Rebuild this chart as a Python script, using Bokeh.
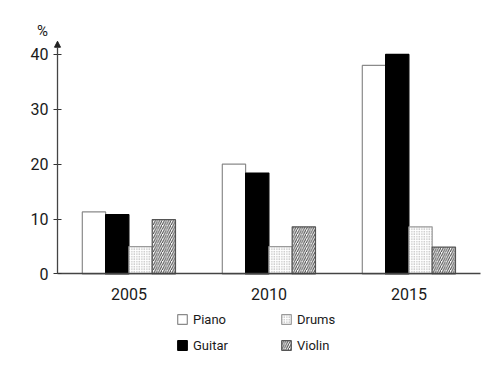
from bokeh.plotting import figure
from bokeh.models import (Range1d, FixedTicker, Legend, LegendItem, Arrow, NormalHead,
                          Label, ColumnDataSource)
from bokeh.transform import dodge
from bokeh.embed import file_html
from bokeh.resources import INLINE

years = [2005, 2010, 2015]
year_labels = ["2005", "2010", "2015"]
instruments = ["Piano", "Guitar", "Drums", "Violin"]
piano = [11.3, 20.0, 38.0]
guitar = [10.8, 18.4, 40.0]
drums = [5.0, 5.0, 8.6]
violin = [9.9, 8.6, 4.9]
y_ticks = [0, 10, 20, 30, 40]

FONT = "Roboto"
TXT = "#1a1a1a"

src = ColumnDataSource(dict(year=years, Piano=piano, Guitar=guitar, Drums=drums, Violin=violin))

W, H = 496, 379
x_axis_start, x_axis_end = 2002.45, 2017.557
y_arrow_end = 42.4
p = figure(width=W, height=H, output_backend="svg", toolbar_location=None,
           x_range=Range1d(2000.414, 2018.129), y_range=Range1d(-19.217, 49.818),
           min_border=0)
p.outline_line_color = None
p.grid.grid_line_color = None
p.background_fill_color = "white"
p.border_fill_color = "white"

bw = 0.832
offs = [-1.5 * bw, -0.5 * bw, 0.5 * bw, 1.5 * bw]
styles = {
    "Piano": dict(fill_color="white", line_color="#8a8a8a"),
    "Guitar": dict(fill_color="black", line_color="black"),
    "Drums": dict(fill_color="white", line_color="#9a9a9a", hatch_pattern="dot",
                  hatch_color="#999999", hatch_scale=2.5, hatch_weight=1),
    "Violin": dict(fill_color="white", line_color="#555555", hatch_pattern="right_diagonal_line",
                   hatch_color="#444444", hatch_scale=4.5, hatch_weight=1),
}
rends = {}
for name, off in zip(instruments, offs):
    rends[name] = p.vbar(x=dodge("year", off), top=name, width=bw, source=src,
                         line_width=1.2, **styles[name])

# x axis
p.xaxis.fixed_location = 0
p.xaxis.bounds = (x_axis_start, x_axis_end)
p.xaxis.ticker = FixedTicker(ticks=years)
p.xaxis.major_label_overrides = {y: l for y, l in zip(years, year_labels)}
p.xaxis.major_tick_line_color = None
p.xaxis.minor_tick_line_color = None
p.xaxis.axis_line_color = "#444444"
p.xaxis.axis_line_width = 1.5
p.xaxis.major_label_standoff = 8
p.xaxis.major_label_text_font = FONT
p.xaxis.major_label_text_font_size = "16px"
p.xaxis.major_label_text_color = TXT

# y axis
p.yaxis.fixed_location = x_axis_start
p.yaxis.ticker = FixedTicker(ticks=y_ticks)
p.yaxis.axis_line_color = None
p.yaxis.major_tick_in = 4
p.yaxis.major_tick_out = 4
p.yaxis.major_tick_line_color = "#333333"
p.yaxis.major_tick_line_width = 1.2
p.yaxis.minor_tick_line_color = None
p.yaxis.major_label_standoff = 5
p.yaxis.major_label_text_font = FONT
p.yaxis.major_label_text_font_size = "16px"
p.yaxis.major_label_text_color = TXT

arrow = Arrow(x_start=x_axis_start, y_start=0, x_end=x_axis_start, y_end=y_arrow_end,
              line_color="#444444", line_width=1.3,
              end=NormalHead(size=6, fill_color="#222222", line_color="#222222", line_width=1))
p.add_layout(arrow)
p.add_layout(Label(x=x_axis_start, y=44.35, text="%", x_offset=-15, text_align="center",
                   text_baseline="middle", text_font=FONT, text_font_size="15px",
                   text_color=TXT))

items = [LegendItem(label=n, renderers=[rends[n]]) for n in instruments]
legend = Legend(items=items, ncols=2, location=(176, 26), orientation="vertical",
                glyph_width=12, glyph_height=12, label_standoff=5, label_width=77,
                label_height=16, spacing=10, padding=0, margin=0,
                border_line_color=None, background_fill_alpha=0,
                label_text_font=FONT, label_text_font_size="13px", label_text_color=TXT)
p.add_layout(legend)

open("out.html", "w").write(file_html(p, INLINE))
